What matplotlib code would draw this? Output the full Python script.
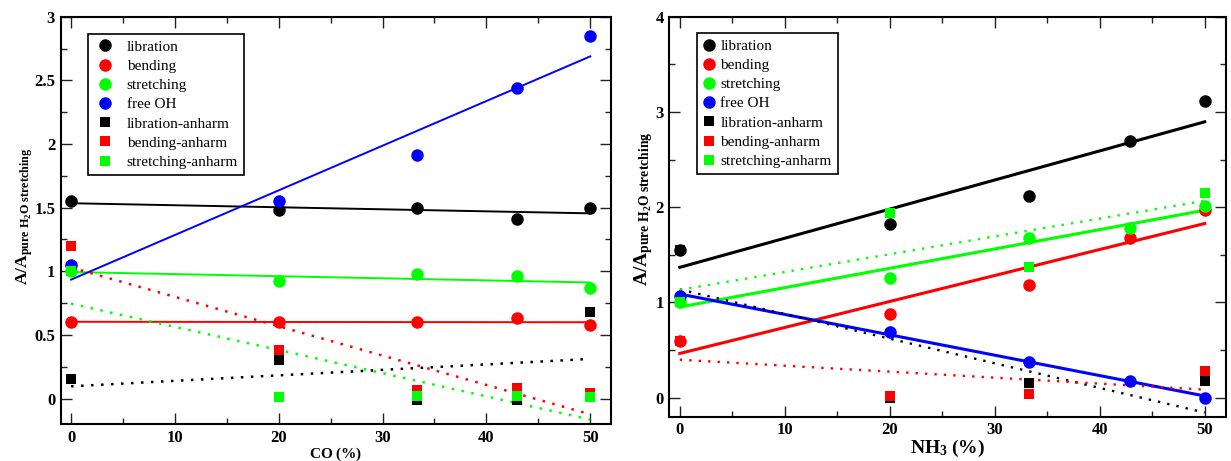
import numpy as np
import matplotlib
matplotlib.use("Agg")
import matplotlib.pyplot as plt
from matplotlib.ticker import MultipleLocator, FuncFormatter

plt.rcParams["font.family"] = ["Liberation Serif", "DejaVu Serif"]
plt.rcParams["mathtext.fontset"] = "custom"
plt.rcParams["mathtext.rm"] = "Liberation Serif"
plt.rcParams["mathtext.bf"] = "Liberation Serif:bold"
plt.rcParams["mathtext.it"] = "Liberation Serif:italic"

# ---- CO / H2O mixtures -------------------------------------------------
co_pct = [0, 20, 33.3, 42.9, 50]
co_libration = [1.55, 1.48, 1.50, 1.41, 1.50]
co_bending = [0.60, 0.60, 0.60, 0.63, 0.575]
co_stretching = [1.00, 0.92, 0.98, 0.96, 0.87]
co_free_oh = [1.05, 1.55, 1.91, 2.44, 2.85]
co_anh_pct = [0, 20, 33.3, 42.9, 50]
co_libration_anh = [0.15, 0.30, -0.01, -0.01, 0.68]
co_bending_anh = [1.20, 0.38, 0.07, 0.085, 0.04]
co_stretching_anh = [1.00, 0.01, 0.02, 0.02, 0.015]

# ---- NH3 / H2O mixtures ------------------------------------------------
nh3_pct = [0, 20, 33.3, 42.9, 50]
nh3_libration = [1.55, 1.82, 2.12, 2.70, 3.12]
nh3_bending = [0.60, 0.88, 1.18, 1.68, 1.97]
nh3_stretching = [1.00, 1.26, 1.68, 1.78, 2.01]
nh3_free_oh = [1.07, 0.69, 0.37, 0.18, 0.00]
nh3_anh_pct = [0, 20, 33.3, 50]
nh3_libration_anh = [1.55, 0.00, 0.15, 0.175]
nh3_bending_anh = [0.60, 0.02, 0.04, 0.285]
nh3_stretching_anh = [1.00, 1.94, 1.37, 2.15]

co_ticks = [0, 10, 20, 30, 40, 50]
co_yticks = [0, 0.5, 1, 1.5, 2, 2.5, 3]
nh3_yticks = [0, 1, 2, 3, 4]

labels = ["libration", "bending", "stretching", "free OH",
          "libration-anharm", "bending-anharm", "stretching-anharm"]
colors = ["#000000", "#ff0000", "#00ff00", "#0000ff",
          "#000000", "#ff0000", "#00ff00"]

W, H = 1231, 461
fig = plt.figure(figsize=(W / 100, H / 100), dpi=100)

ax1 = fig.add_axes([60.7 / W, 1 - 424 / H, (611 - 60.7) / W, (424 - 16.7) / H])
ax2 = fig.add_axes([669.3 / W, 1 - 416.7 / H, (1225.7 - 669.3) / W, (416.7 - 16.7) / H])


def fit_line(ax, x, y, color, lw, dotted):
    x = np.asarray(x, float)
    coef = np.polyfit(x, np.asarray(y, float), 1)
    xs = np.array([x.min(), x.max()])
    ls = (0, (1, 3)) if dotted else "-"
    ax.plot(xs, np.polyval(coef, xs), color=color, lw=lw, ls=ls,
            zorder=2, dash_capstyle="butt")


def panel(ax, x, circ, xa, squares, lw_solid, lw_dot):
    for y, c in zip(circ, colors[:4]):
        fit_line(ax, x, y, c, lw_solid, False)
    for y, c in zip(squares, colors[4:]):
        fit_line(ax, xa, y, c, lw_dot, True)
    for y, c, lab in zip(circ, colors[:4], labels[:4]):
        ax.plot(x, y, ls="none", marker="o", ms=9, mew=0, color=c,
                label=lab, zorder=3)
    for y, c, lab in zip(squares, colors[4:], labels[4:]):
        ax.plot(xa, y, ls="none", marker="s", ms=7.2, mew=0, color=c,
                label=lab, zorder=3)


panel(ax1, co_pct, [co_libration, co_bending, co_stretching, co_free_oh],
      co_anh_pct, [co_libration_anh, co_bending_anh, co_stretching_anh],
      1.4, 1.8)
panel(ax2, nh3_pct, [nh3_libration, nh3_bending, nh3_stretching, nh3_free_oh],
      nh3_anh_pct, [nh3_libration_anh, nh3_bending_anh, nh3_stretching_anh],
      2.2, 1.7)

fmt = FuncFormatter(lambda v, p: "%g" % v)
for ax, yt, ylim, yminor in ((ax1, co_yticks, (-0.2, 3), 0.25),
                             (ax2, nh3_yticks, (-0.2, 4), 0.5)):
    ax.set_xlim(-1, 52)
    ax.set_ylim(*ylim)
    ax.set_xticks(co_ticks)
    ax.set_yticks(yt)
    ax.xaxis.set_minor_locator(MultipleLocator(5))
    ax.yaxis.set_minor_locator(MultipleLocator(yminor))
    ax.xaxis.set_major_formatter(fmt)
    ax.yaxis.set_major_formatter(fmt)
    ax.tick_params(which="both", direction="in", top=True, right=True,
                   color="#222222", width=1.0)
    ax.tick_params(which="major", length=8)
    ax.tick_params(which="minor", length=4)
    ax.tick_params(axis="y", which="major", pad=4)
    ax.tick_params(axis="x", which="major", pad=4)
    for t in ax.get_xticklabels() + ax.get_yticklabels():
        t.set_fontsize(12)
        t.set_fontweight("bold")
    for s in ax.spines.values():
        s.set_linewidth(1.5)

ax1.set_xlabel(r"$\mathbf{CO\ (\%)}$", fontsize=11)
ax1.xaxis.set_label_coords(0.5, -0.052)
ax2.set_xlabel(r"$\mathbf{NH}_{\mathbf{3}}\mathbf{\ (\%)}$", fontsize=14, labelpad=0)

ylab = r"$\mathbf{A/A}_{\mathbf{pure\ H}_{\mathbf{2}}\mathbf{O\ stretching}}$"
ax1.set_ylabel(ylab, fontsize=12.5)
ax1.yaxis.set_label_coords(-0.046, 0.51)
ax2.set_ylabel(ylab, fontsize=14)
ax2.yaxis.set_label_coords(-0.026, 0.52)

leg_kw = dict(loc="upper left", borderaxespad=0, frameon=True, fancybox=False,
              edgecolor="black", framealpha=1, fontsize=11, borderpad=0.4,
              labelspacing=0.36, numpoints=1)
leg1 = ax1.legend(bbox_to_anchor=(0.0496, 0.9575), handlelength=1.43,
                  handletextpad=0.7, **leg_kw)
leg2 = ax2.legend(bbox_to_anchor=(0.0498, 0.959), handlelength=0.8,
                  handletextpad=0.33, **leg_kw)
for leg in (leg1, leg2):
    leg.get_frame().set_linewidth(1.2)

fig.savefig("out.png", dpi=100)
